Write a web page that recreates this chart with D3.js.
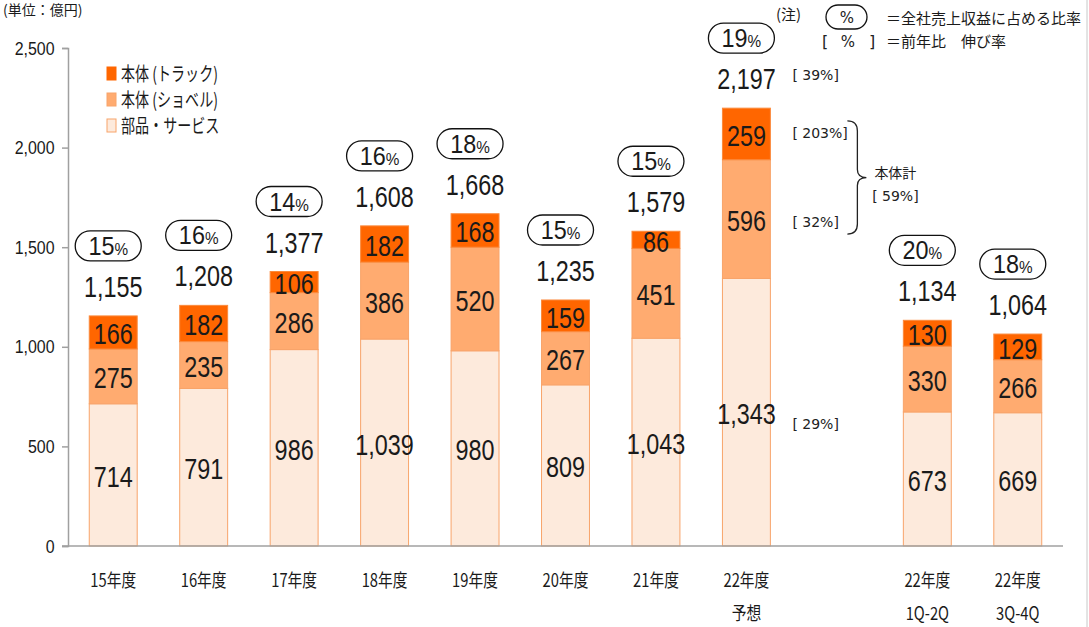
<!DOCTYPE html>
<html>
<head>
<meta charset="utf-8">
<script src="https://cdn.jsdelivr.net/npm/d3@7"></script>
<style>
  html, body { margin: 0; padding: 0; background: #fff; }
  svg { display: block; }
  .num { font-family: "Liberation Sans", Arial, sans-serif; fill: #1a1a1a; }
  .jp { font-family: "Noto Sans CJK JP", "Noto Sans", sans-serif; fill: #1a1a1a; }
  .note { font-family: "DejaVu Sans", sans-serif; fill: #222; }
</style>
</head>
<body>
<div id="chart"></div>
<script>
// Komatsu-style stacked bars: revenue by segment (unit: 100M yen)

const categories = ['15年度', '16年度', '17年度', '18年度', '19年度', '20年度', '21年度', '22年度\n予想', '', '22年度\n1Q-2Q', '22年度\n3Q-4Q'];
const partsValues  = [714, 791, 986, 1039, 980, 809, 1043, 1343, null, 673, 669];
const shovelValues = [275, 235, 286, 386, 520, 267, 451, 596, null, 330, 266];
const truckValues  = [166, 182, 106, 182, 168, 159, 86, 259, null, 130, 129];
const totalValues  = [1155, 1208, 1377, 1608, 1668, 1235, 1579, 2197, null, 1134, 1064];
const shareValues  = [15, 16, 14, 16, 18, 15, 15, 19, null, 20, 18];

const seriesKeys   = ['parts', 'shovel', 'truck'];
const seriesNames  = ['部品・サービス', '本体 (ショベル)', '本体 (トラック)'];
const yTicks       = [0, 500, 1000, 1500, 2000, 2500];

// growth notes next to the 22年度 forecast bar
const growthLabels = ['[ 39%]', '[ 203%]', '[ 32%]', '[ 29%]'];
const growthSeries = ['total', 'truck', 'shovel', 'parts'];
const bodyTotalLabel = '本体計';
const bodyTotalGrowth = '[ 59%]';

const colors = { truck: '#ff6600', shovel: '#ffab70', parts: '#fdeadc' };
const edge = '#f8a46a';

const W = 1089, H = 627;
const svg = d3.select('#chart').append('svg')
    .attr('width', W)
    .attr('height', H);

svg.append('rect').attr('width', W).attr('height', H).attr('fill', '#fff');

// right frame line
svg.append('line')
    .attr('x1', 1087).attr('x2', 1087).attr('y1', 0).attr('y2', H)
    .attr('stroke', '#c8c8c8').attr('stroke-width', 1);

// narrow text: the original uses a condensed face
function squeeze(sel, tx, ty, sx) {
    return sel.attr('transform', `translate(${tx},${ty}) scale(${sx},1)`);
}

const x = d3.scaleBand()
    .domain(categories)
    .range([68, 1063])
    .paddingInner(0.47)
    .paddingOuter(0.235);

const y = d3.scaleLinear()
    .domain([0, 2500])
    .range([546, 48]);

const rows = categories.map((c, i) => ({
    cat: c,
    parts: partsValues[i],
    shovel: shovelValues[i],
    truck: truckValues[i],
    total: totalValues[i],
    share: shareValues[i]
})).filter(d => d.total !== null);

const stack = d3.stack().keys(seriesKeys);
const layers = stack(rows);

// unit label
svg.append('text')
    .attr('class', 'jp')
    .attr('x', 3).attr('y', 15)
    .attr('font-size', 14)
    .attr('fill', '#333')
    .text('(単位：億円)');

// Y axis
const yAxis = svg.append('g')
    .attr('transform', 'translate(68,0)')
    .call(d3.axisLeft(y).tickValues(yTicks).tickSize(6).tickPadding(10).tickFormat(d3.format(',')));
yAxis.select('.domain').attr('stroke', '#a0a0a0').attr('stroke-width', 1.5);
yAxis.selectAll('.tick line').attr('stroke', '#a0a0a0').attr('stroke-width', 1.5);
yAxis.selectAll('.tick text')
    .attr('class', 'num')
    .attr('font-size', 19)
    .attr('fill', '#222')
    .attr('transform', 'scale(0.84,1)');

// bars
layers.forEach(layer => {
    svg.append('g').selectAll('rect')
        .data(layer)
        .enter()
        .append('rect')
        .attr('x', d => x(d.data.cat))
        .attr('y', d => y(d[1]))
        .attr('width', x.bandwidth())
        .attr('height', d => y(d[0]) - y(d[1]))
        .attr('fill', colors[layer.key])
        .attr('stroke', layer.key === 'truck' ? '#fb8a3c' : edge)
        .attr('stroke-width', 1);
});

// X axis line
svg.append('line')
    .attr('x1', 62).attr('x2', 1063)
    .attr('y1', y(0)).attr('y2', y(0))
    .attr('stroke', '#a0a0a0').attr('stroke-width', 1.5);

// X labels
categories.forEach(c => {
    if (!c) return;
    const cx = x(c) + x.bandwidth() / 2;
    c.split('\n').forEach((line, k) => {
        const t = svg.append('text')
            .attr('class', 'jp')
            .attr('text-anchor', 'middle')
            .attr('font-size', 18)
            .text(line);
        squeeze(t, cx, 587 + k * 33, 0.82);
    });
});

// segment labels
layers.forEach(layer => {
    svg.append('g').selectAll('text')
        .data(layer)
        .enter()
        .append('text')
        .attr('class', 'num')
        .attr('text-anchor', 'middle')
        .attr('font-size', 30)
        .attr('transform', d => `translate(${x(d.data.cat) + x.bandwidth() / 2},${(y(d[0]) + y(d[1])) / 2 + 12}) scale(0.78,1)`)
        .text(d => d3.format(',')(d.data[layer.key]));
});

// totals and share pills
const barTop = d => y(d.parts + d.shovel + d.truck);
rows.forEach(d => {
    const cx = x(d.cat) + x.bandwidth() / 2;
    const tt = svg.append('text')
        .attr('class', 'num')
        .attr('text-anchor', 'middle')
        .attr('font-size', 30)
        .text(d3.format(',')(d.total));
    squeeze(tt, cx, barTop(d) - 19, 0.78);

    const py = barTop(d) - 70;
    const px = cx - 5;
    svg.append('rect')
        .attr('x', px - 33).attr('y', py - 15)
        .attr('width', 66).attr('height', 30)
        .attr('rx', 15)
        .attr('fill', '#fff')
        .attr('stroke', '#111')
        .attr('stroke-width', 1.3);
    const t = svg.append('text')
        .attr('class', 'num')
        .attr('text-anchor', 'middle')
        .attr('font-size', 26);
    squeeze(t, px, py + 9, 0.9);
    t.append('tspan').text(d.share);
    t.append('tspan').attr('font-size', 17).text('%');
});

// legend
const legendOrder = ['truck', 'shovel', 'parts'];
legendOrder.forEach((k, i) => {
    const ly = 74 + i * 26;
    svg.append('rect')
        .attr('x', 107).attr('y', ly - 7)
        .attr('width', 9).attr('height', 13)
        .attr('fill', colors[k])
        .attr('stroke', k === 'truck' ? colors.truck : edge)
        .attr('stroke-width', 1);
    const t = svg.append('text')
        .attr('class', 'jp')
        .attr('font-size', 19)
        .text(seriesNames[seriesKeys.indexOf(k)]);
    squeeze(t, 121, ly + 7, 0.74);
});

// growth notes for forecast bar
const fc = rows.find(d => d.cat === categories[7]);
const fcLayer = key => layers.find(l => l.key === key).find(p => p.data === fc);
const noteX = x(fc.cat) + x.bandwidth() + 22;
const noteOffset = { total: 5, truck: 4, shovel: 8, parts: 17 };
const noteY = key => {
    if (key === 'total') return barTop(fc) - 33 + noteOffset.total;
    const p = fcLayer(key);
    return (y(p[0]) + y(p[1])) / 2 + noteOffset[key];
};
growthLabels.forEach((g, i) => {
    svg.append('text')
        .attr('class', 'note')
        .attr('x', noteX)
        .attr('y', noteY(growthSeries[i]))
        .attr('font-size', 14)
        .attr('xml:space', 'preserve')
        .text(g);
});

// brace grouping truck + shovel
const bTop = noteY('truck') - 17;
const bBot = noteY('shovel') + 7;
const bMid = (bTop + bBot) / 2;
const bx = noteX + 55;
svg.append('path')
    .attr('d', `M${bx},${bTop} Q${bx + 10},${bTop} ${bx + 10},${bTop + 10} L${bx + 10},${bMid - 8} Q${bx + 10},${bMid} ${bx + 19},${bMid}` +
               ` Q${bx + 10},${bMid} ${bx + 10},${bMid + 8} L${bx + 10},${bBot - 10} Q${bx + 10},${bBot} ${bx},${bBot}`)
    .attr('fill', 'none')
    .attr('stroke', '#222')
    .attr('stroke-width', 1.3);
svg.append('text')
    .attr('class', 'jp')
    .attr('text-anchor', 'middle')
    .attr('x', bx + 48).attr('y', bMid)
    .attr('font-size', 14)
    .text(bodyTotalLabel);
svg.append('text')
    .attr('class', 'note')
    .attr('text-anchor', 'middle')
    .attr('x', bx + 48).attr('y', bMid + 23)
    .attr('font-size', 14)
    .attr('xml:space', 'preserve')
    .text(bodyTotalGrowth);

// note in the top right corner
svg.append('text')
    .attr('class', 'jp')
    .attr('x', 776).attr('y', 20)
    .attr('font-size', 15)
    .text('(注)');
svg.append('rect')
    .attr('x', 826).attr('y', 5)
    .attr('width', 41).attr('height', 24)
    .attr('rx', 12)
    .attr('fill', '#fff')
    .attr('stroke', '#111')
    .attr('stroke-width', 1.3);
svg.append('text')
    .attr('class', 'note')
    .attr('text-anchor', 'middle')
    .attr('x', 847).attr('y', 23)
    .attr('font-size', 15)
    .text('%');
svg.append('text')
    .attr('class', 'jp')
    .attr('x', 886).attr('y', 24)
    .attr('font-size', 15)
    .text('＝全社売上収益に占める比率');
svg.append('text')
    .attr('class', 'note')
    .attr('x', 822).attr('y', 47)
    .attr('font-size', 16)
    .text('[');
svg.append('text')
    .attr('class', 'note')
    .attr('text-anchor', 'middle')
    .attr('x', 848).attr('y', 47)
    .attr('font-size', 15)
    .text('%');
svg.append('text')
    .attr('class', 'note')
    .attr('x', 869).attr('y', 47)
    .attr('font-size', 16)
    .text(']');
svg.append('text')
    .attr('class', 'jp')
    .attr('x', 886).attr('y', 47)
    .attr('font-size', 15)
    .text('＝前年比　伸び率');
</script>
</body>
</html>
